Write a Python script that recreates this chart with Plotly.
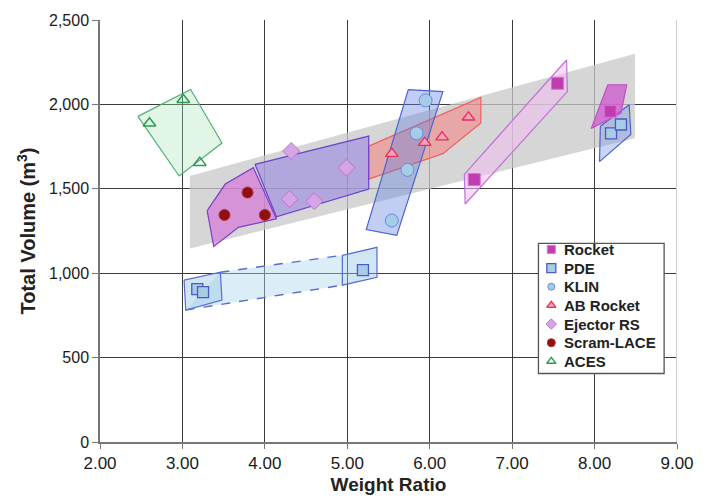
import plotly.graph_objects as go

# ---- Point data (weight ratio, total volume m^3) ----
rocket_x = [6.54, 7.55, 8.19]
rocket_y = [1555, 2125, 1959]

pde_x = [3.18, 3.25, 5.19, 8.20, 8.32]
pde_y = [906, 888, 1018, 1828, 1881]

klin_x = [5.95, 5.84, 5.73, 5.54]
klin_y = [2024, 1829, 1612, 1312]

ab_x = [5.54, 5.94, 6.15, 6.47]
ab_y = [1708, 1773, 1806, 1924]

ejector_x = [4.32, 4.99, 4.30, 4.60]
ejector_y = [1724, 1625, 1439, 1426]

scram_x = [3.51, 3.79, 4.00]
scram_y = [1345, 1478, 1345]

aces_x = [2.60, 3.01, 3.21]
aces_y = [1888, 2028, 1655]

# ---- Envelope regions around each concept ----
trend_band_x = [3.09, 8.49, 8.49, 3.09]
trend_band_y = [1576, 2300, 1800, 1147]

aces_env_x = [2.46, 3.10, 3.48, 2.96]
aces_env_y = [1929, 2088, 1771, 1576]

scram_env_x = [3.30, 3.52, 3.86, 4.14, 3.68, 3.38]
scram_env_y = [1371, 1528, 1625, 1322, 1272, 1159]

ejector_env_x = [3.88, 5.26, 5.26, 4.14]
ejector_env_y = [1645, 1812, 1498, 1334]

ab_env_x = [5.26, 6.62, 6.62, 6.16, 5.26]
ab_env_y = [1753, 2041, 1890, 1708, 1557]

klin_env_x = [5.74, 6.16, 5.60, 5.23]
klin_env_y = [2088, 2076, 1224, 1259]

pde_left_x = [3.02, 3.46, 3.48, 3.04]
pde_left_y = [959, 1006, 841, 782]
pde_right_x = [4.94, 5.36, 5.36, 4.94]
pde_right_y = [1106, 1153, 976, 929]
pde_link_x = [3.46, 4.94, 4.94, 3.04]
pde_link_y = [1006, 1106, 929, 782]

pde_hi_x = [8.07, 8.42, 8.44, 8.06]
pde_hi_y = [1871, 1998, 1822, 1661]

rocket_env_x = [6.42, 7.66, 7.67, 6.43]
rocket_env_y = [1586, 2263, 2076, 1410]

rocket_hi_x = [8.16, 8.39, 8.32, 7.96]
rocket_hi_y = [2116, 2116, 1949, 1857]

x_ticks = [2, 3, 4, 5, 6, 7, 8, 9]
x_tick_text = ["2.00", "3.00", "4.00", "5.00", "6.00", "7.00", "8.00", "9.00"]
y_ticks = [0, 500, 1000, 1500, 2000, 2500]
y_tick_text = ["0", "500", "1,000", "1,500", "2,000", "2,500"]

series_names = ["Rocket", "PDE", "KLIN", "AB Rocket", "Ejector RS", "Scram-LACE", "ACES"]

# ---- page geometry (pixels) ----
W, H = 706, 504
PL, PR, PT, PB = 100, 683, 18, 443          # plot-area edges
X_RANGE = (2, 9)
Y_RANGE = (0, 2500)

FONT = "Liberation Sans, Arial, sans-serif"

fig = go.Figure()


def region(xs, ys, fill, edge, width=1.2, dash="solid"):
    fig.add_trace(go.Scatter(
        x=xs + xs[:1], y=ys + ys[:1], mode="lines", fill="toself",
        fillcolor=fill, line=dict(color=edge, width=width, dash=dash),
        hoverinfo="skip", showlegend=False))


# grey trend band
region(trend_band_x, trend_band_y, "rgba(200,200,200,0.75)", "rgba(0,0,0,0)", 0)

# concept envelopes
region(aces_env_x, aces_env_y, "rgba(170,230,185,0.35)", "#4fb071")
region(rocket_env_x, rocket_env_y, "rgba(240,190,240,0.55)", "#c070d8")
region(ab_env_x, ab_env_y, "rgba(255,110,110,0.45)", "#f06060")
region(klin_env_x, klin_env_y, "rgba(100,130,225,0.40)", "#4a64d0")
region(ejector_env_x, ejector_env_y, "rgba(150,130,225,0.55)", "#6a44c8")
region(scram_env_x, scram_env_y, "rgba(215,110,215,0.65)", "#7a40c8")

# PDE: two boxes joined by a dashed envelope
fig.add_trace(go.Scatter(
    x=pde_link_x + pde_link_x[:1], y=pde_link_y + pde_link_y[:1],
    mode="lines", fill="toself", fillcolor="rgba(175,215,235,0.45)",
    line=dict(width=0, color="rgba(0,0,0,0)"), hoverinfo="skip", showlegend=False))
fig.add_trace(go.Scatter(
    x=[pde_link_x[0], pde_link_x[1], None, pde_link_x[3], pde_link_x[2]],
    y=[pde_link_y[0], pde_link_y[1], None, pde_link_y[3], pde_link_y[2]],
    mode="lines", line=dict(color="#5a6ad0", width=1.4, dash="dash"),
    hoverinfo="skip", showlegend=False))
region(pde_left_x, pde_left_y, "rgba(150,200,230,0.45)", "#5a6ad0")
region(pde_right_x, pde_right_y, "rgba(150,200,230,0.45)", "#5a6ad0")
region(pde_hi_x, pde_hi_y, "rgba(120,150,225,0.40)", "#4a64d0")
region(rocket_hi_x, rocket_hi_y, "rgba(205,80,205,0.70)", "#c050c8")

# ---- marker styles per series ----
styles = {
    "Rocket": dict(symbol="square", color="#c03cb0", line=dict(color="#e070d8", width=1)),
    "PDE": dict(symbol="square", color="#a8cce8", line=dict(color="#4a5cc0", width=1.3)),
    "KLIN": dict(symbol="circle", color="#a6cce8", line=dict(color="#6a8ad8", width=1)),
    "AB Rocket": dict(symbol="triangle-up", color="#f4a0c0", line=dict(color="#e83050", width=1.3)),
    "Ejector RS": dict(symbol="diamond", color="#d4a6e6", line=dict(color="#c070d0", width=1)),
    "Scram-LACE": dict(symbol="circle", color="#8e1010", line=dict(color="#b03030", width=1)),
    "ACES": dict(symbol="triangle-up-open", color="#2e9a4e", line=dict(width=1.5)),
}
sizes = {"Rocket": 12, "PDE": 11, "KLIN": 13, "AB Rocket": 11,
         "Ejector RS": 13, "Scram-LACE": 11, "ACES": 11}
legend_sizes = {"Rocket": 8, "PDE": 9, "KLIN": 7, "AB Rocket": 8,
                "Ejector RS": 8, "Scram-LACE": 8, "ACES": 8}

series_xy = {
    "Rocket": (rocket_x, rocket_y),
    "PDE": (pde_x, pde_y),
    "KLIN": (klin_x, klin_y),
    "AB Rocket": (ab_x, ab_y),
    "Ejector RS": (ejector_x, ejector_y),
    "Scram-LACE": (scram_x, scram_y),
    "ACES": (aces_x, aces_y),
}

for name in series_names:
    xs, ys = series_xy[name]
    fig.add_trace(go.Scatter(
        x=xs, y=ys, mode="markers", name=name, showlegend=False,
        marker=dict(size=sizes[name], **styles[name])))


# ---- key box (drawn by hand to get compact row spacing) ----
def px_to_x(px):
    return X_RANGE[0] + (px - PL) / (PR - PL) * (X_RANGE[1] - X_RANGE[0])


def py_to_y(py):
    return Y_RANGE[0] + (PB - py) / (PB - PT) * (Y_RANGE[1] - Y_RANGE[0])


KEY_L, KEY_R, KEY_T, KEY_B = 543, 670, 243, 374
KEY_ROW0, KEY_STEP = 249, 18.8
KEY_MARK_X, KEY_TEXT_X = 556, 567

shapes = [
    dict(type="rect", xref="x", yref="y", layer="between",
         x0=px_to_x(KEY_L), x1=px_to_x(KEY_R),
         y0=py_to_y(KEY_B), y1=py_to_y(KEY_T),
         fillcolor="white", line=dict(color="#555", width=1.3)),
    dict(type="line", xref="x", yref="paper", x0=9, x1=9, y0=0, y1=1,
         line=dict(color="#cfcfcf", width=2), layer="above"),
]

annotations = []
for i, name in enumerate(series_names):
    row_py = KEY_ROW0 + i * KEY_STEP
    fig.add_trace(go.Scatter(
        x=[px_to_x(KEY_MARK_X)], y=[py_to_y(row_py)], mode="markers",
        showlegend=False, hoverinfo="skip",
        marker=dict(size=legend_sizes[name], **styles[name])))
    annotations.append(dict(
        xref="paper", yref="paper",
        x=(KEY_TEXT_X - PL) / (PR - PL), y=(PB - row_py) / (PB - PT),
        xanchor="left", yanchor="middle", showarrow=False, text=name,
        font=dict(family=FONT, size=15, color="#222", weight="bold")))

grid = "#3a3a3a"

fig.update_layout(
    width=W, height=H,
    margin=dict(l=PL, r=W - PR, t=PT, b=H - PB),
    paper_bgcolor="white", plot_bgcolor="white",
    font=dict(family=FONT, color="#222"),
    showlegend=False,
    xaxis=dict(
        range=list(X_RANGE), tickvals=x_ticks, ticktext=x_tick_text,
        showgrid=True, gridcolor=grid, gridwidth=1.2,
        showline=True, linecolor="#777", linewidth=1.5,
        ticks="outside", ticklen=5, tickcolor="#777",
        tickfont=dict(family=FONT, size=17, color="#1a1a1a"), zeroline=False,
        title=dict(text="<b>Weight Ratio</b>", standoff=6,
                   font=dict(size=19, color="#222")),
    ),
    yaxis=dict(
        range=list(Y_RANGE), tickvals=y_ticks, ticktext=y_tick_text,
        showgrid=True, gridcolor=grid, gridwidth=1.2,
        showline=True, linecolor="#777", linewidth=1.5,
        ticks="outside", ticklen=6, tickcolor="#777",
        tickfont=dict(family=FONT, size=16, color="#1a1a1a"), zeroline=False,
        title=dict(text="<b>Total Volume (m<sup>3</sup>)</b>", standoff=8,
                   font=dict(size=20, color="#222")),
    ),
    shapes=shapes,
    annotations=annotations,
)

fig.write_html("out.html")
